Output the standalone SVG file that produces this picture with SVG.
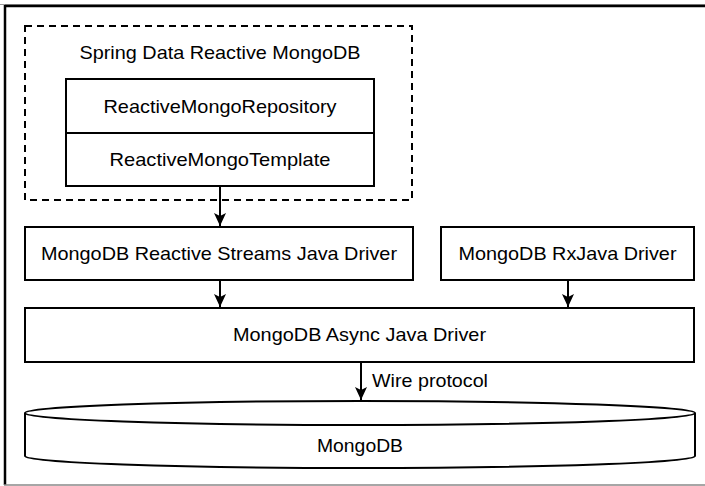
<svg xmlns="http://www.w3.org/2000/svg" width="705" height="486" viewBox="0 0 705 486">
  <style>
    .box { fill: #ffffff; stroke: #000000; stroke-width: 2; }
    .dash { fill: none; stroke: #000000; stroke-width: 2; stroke-dasharray: 7 5; }
    .lbl { font-family: "Liberation Sans", Arial, Helvetica, sans-serif; font-size: 18.5px; fill: #000000; }
    .mid { text-anchor: middle; }
    .conn { stroke: #000000; stroke-width: 2; fill: none; marker-end: url(#arrow); }
  </style>
  <defs>
    <marker id="arrow" markerUnits="userSpaceOnUse" markerWidth="14" markerHeight="12" refX="13" refY="6" orient="auto" viewBox="0 0 14 12">
      <path d="M0,0 L3,6 L0,12 L13,6 Z" fill="#000000"/>
    </marker>
  </defs>
  <rect width="705" height="486" fill="#ffffff"/>
  <g id="frame">
    <line x1="0" y1="4.5" x2="705" y2="4.5" stroke="#999999" stroke-width="1"/>
    <line x1="5" y1="6" x2="705" y2="6" stroke="#000000" stroke-width="2.5"/>
    <line x1="5" y1="5" x2="5" y2="485" stroke="#000000" stroke-width="2.5"/>
    <line x1="4" y1="485" x2="705" y2="485" stroke="#888888" stroke-width="1.5"/>
  </g>
  <g id="spring-data">
    <rect class="dash" x="25" y="26" width="387" height="174"/>
    <text class="lbl mid" x="220" y="58.5" textLength="281" lengthAdjust="spacingAndGlyphs">Spring Data Reactive MongoDB</text>
  </g>
  <g id="repository">
    <rect class="box" x="66" y="79" width="308" height="54"/>
    <text class="lbl mid" x="220" y="113" textLength="233" lengthAdjust="spacingAndGlyphs">ReactiveMongoRepository</text>
  </g>
  <g id="template">
    <rect class="box" x="66" y="133" width="308" height="53"/>
    <text class="lbl mid" x="220" y="166" textLength="221" lengthAdjust="spacingAndGlyphs">ReactiveMongoTemplate</text>
  </g>
  <g id="reactive-streams">
    <rect class="box" x="25" y="227" width="388" height="53"/>
    <text class="lbl mid" x="219" y="260" textLength="356" lengthAdjust="spacingAndGlyphs">MongoDB Reactive Streams Java Driver</text>
  </g>
  <g id="rxjava">
    <rect class="box" x="441" y="227" width="253" height="53"/>
    <text class="lbl mid" x="567.5" y="260" textLength="218" lengthAdjust="spacingAndGlyphs">MongoDB RxJava Driver</text>
  </g>
  <g id="async">
    <rect class="box" x="25" y="308" width="669" height="54"/>
    <text class="lbl mid" x="359.5" y="341" textLength="253" lengthAdjust="spacingAndGlyphs">MongoDB Async Java Driver</text>
  </g>
  <g id="mongodb">
    <path class="box" d="M25,413 L25,456 A335,12 0 0 0 695,456 L695,413"/>
    <ellipse class="box" cx="360" cy="413" rx="335" ry="12"/>
    <text class="lbl mid" x="360" y="452" textLength="86" lengthAdjust="spacingAndGlyphs">MongoDB</text>
  </g>
  <g id="connectors">
    <line class="conn" x1="220" y1="186" x2="220" y2="226"/>
    <line class="conn" x1="220" y1="280" x2="220" y2="307"/>
    <line class="conn" x1="568" y1="280" x2="568" y2="307"/>
    <line class="conn" x1="361" y1="362" x2="361" y2="400"/>
    <text class="lbl" x="372" y="387" textLength="116" lengthAdjust="spacingAndGlyphs">Wire protocol</text>
  </g>
</svg>
